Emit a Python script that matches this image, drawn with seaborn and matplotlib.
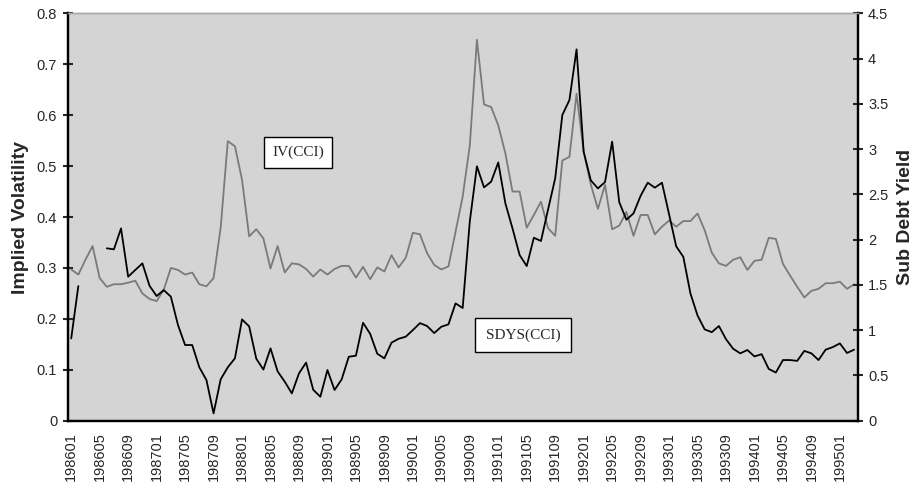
import numpy as np
import pandas as pd
import matplotlib.pyplot as plt
import seaborn as sns

# Monatsreihe 198601 .. 199503
months = [f"{y}{m:02d}" for y in range(1986, 1996) for m in range(1, 13)][:111]

# Implied Volatility (linke Achse)
iv = [0.297, 0.287, 0.316, 0.343, 0.280, 0.263, 0.268, 0.268, 0.271, 0.275,
      0.250, 0.239, 0.235, 0.257, 0.300, 0.296, 0.287, 0.291, 0.268, 0.264,
      0.280, 0.379, 0.549, 0.539, 0.473, 0.362, 0.376, 0.358, 0.299, 0.343,
      0.291, 0.309, 0.307, 0.298, 0.283, 0.297, 0.287, 0.298, 0.304, 0.304,
      0.281, 0.302, 0.278, 0.301, 0.293, 0.325, 0.301, 0.320, 0.369, 0.366,
      0.329, 0.306, 0.297, 0.303, 0.371, 0.440, 0.540, 0.748, 0.621, 0.616,
      0.580, 0.525, 0.450, 0.450, 0.379, 0.404, 0.430, 0.378, 0.363, 0.511,
      0.518, 0.642, 0.528, 0.464, 0.416, 0.463, 0.376, 0.383, 0.410, 0.363,
      0.404, 0.404, 0.366, 0.381, 0.393, 0.381, 0.392, 0.392, 0.407, 0.374,
      0.330, 0.309, 0.304, 0.316, 0.321, 0.296, 0.314, 0.316, 0.359, 0.357,
      0.308, 0.285, 0.263, 0.242, 0.255, 0.259, 0.270, 0.270, 0.273, 0.259,
      0.268]

# Sub Debt Yield (rechte Achse), Luecke 198603-198605
nan = np.nan
sdys = [0.909, 1.487, nan, nan, nan, 1.904, 1.893, 2.124, 1.591, 1.665,
        1.738, 1.491, 1.377, 1.443, 1.370, 1.057, 0.836, 0.836, 0.590, 0.449,
        0.081, 0.457, 0.590, 0.689, 1.119, 1.042, 0.685, 0.565, 0.799, 0.545,
        0.431, 0.302, 0.523, 0.642, 0.342, 0.265, 0.560, 0.339, 0.457, 0.707,
        0.718, 1.082, 0.960, 0.740, 0.689, 0.862, 0.905, 0.928, 1.001, 1.078,
        1.046, 0.968, 1.038, 1.064, 1.296, 1.245, 2.200, 2.810, 2.577, 2.640,
        2.853, 2.401, 2.124, 1.830, 1.708, 2.021, 1.985, 2.334, 2.677, 3.376,
        3.542, 4.102, 2.971, 2.655, 2.566, 2.636, 3.082, 2.414, 2.220, 2.290,
        2.484, 2.629, 2.574, 2.629, 2.280, 1.926, 1.810, 1.406, 1.162, 1.009,
        0.978, 1.046, 0.900, 0.795, 0.744, 0.781, 0.710, 0.735, 0.572, 0.532,
        0.670, 0.670, 0.661, 0.771, 0.744, 0.670, 0.785, 0.813, 0.854, 0.748,
        0.785]

left_ticks = [0, 0.1, 0.2, 0.3, 0.4, 0.5, 0.6, 0.7, 0.8]
right_ticks = [0, 0.5, 1, 1.5, 2, 2.5, 3, 3.5, 4, 4.5]

df = pd.DataFrame({"idx": range(len(months)), "month": months, "iv": iv, "sdys": sdys})
df["seg"] = df["sdys"].isna().cumsum()

sns.set_style("white")
plt.rcParams["font.family"] = ["Liberation Sans", "DejaVu Sans"]

fig = plt.figure(figsize=(9.18, 4.87), dpi=100)
ax = fig.add_axes([0.0737, 0.1361, 0.8606, 0.8366])
ax.set_facecolor("#D4D4D4")

sns.lineplot(data=df, x="idx", y="iv", color="#7A7A7A", linewidth=1.3, ax=ax)
ax2 = ax.twinx()
sns.lineplot(data=df.dropna(subset=["sdys"]), x="idx", y="sdys", units="seg",
             estimator=None, color="black", linewidth=1.3, ax=ax2)

ax.set_xlim(-0.5, len(months) - 0.5)
ax.set_ylim(0, 0.8)
ax2.set_ylim(0, 4.5)

ax.set_xticks(df["idx"][::4])
ax.set_xticklabels(df["month"][::4], rotation=90, fontsize=10.5)
ax.tick_params(axis="x", length=0, pad=8)

ax.set_yticks(left_ticks)
ax.set_yticklabels([f"{v:g}" for v in left_ticks], fontsize=10.5)
ax2.set_yticks(right_ticks)
ax2.set_yticklabels([f"{v:g}" for v in right_ticks], fontsize=10.5)
ax.tick_params(axis="y", direction="inout", length=7, width=1.5, pad=4, left=True)
ax2.tick_params(axis="y", direction="inout", length=7, width=1.5, pad=4, right=True)

ax.set_xlabel("")
ax.set_ylabel("Implied Volatility", fontsize=14, fontweight="bold", labelpad=6)
ax2.set_ylabel("Sub Debt Yield", fontsize=14, fontweight="bold", labelpad=6)

for a in (ax, ax2):
    for s in ("left", "right", "bottom"):
        a.spines[s].set_color("black")
        a.spines[s].set_linewidth(1.6)
    a.spines["top"].set_color("#A8A8A8")
    a.spines["top"].set_linewidth(1.0)

# Beschriftungskaesten
fig.text(0.3244, 0.6869, "IV(CCI)", ha="center", va="center", fontsize=11,
         family="Liberation Serif",
         bbox=dict(boxstyle="square,pad=0.55", fc="white", ec="black", lw=1.0))
fig.text(0.5294, 0.3121, "SDYS(CCI)", ha="left", va="center", fontsize=11,
         family="Liberation Serif",
         bbox=dict(boxstyle="square,pad=0.7", fc="white", ec="black", lw=1.0))

fig.savefig("out.png", dpi=100)
